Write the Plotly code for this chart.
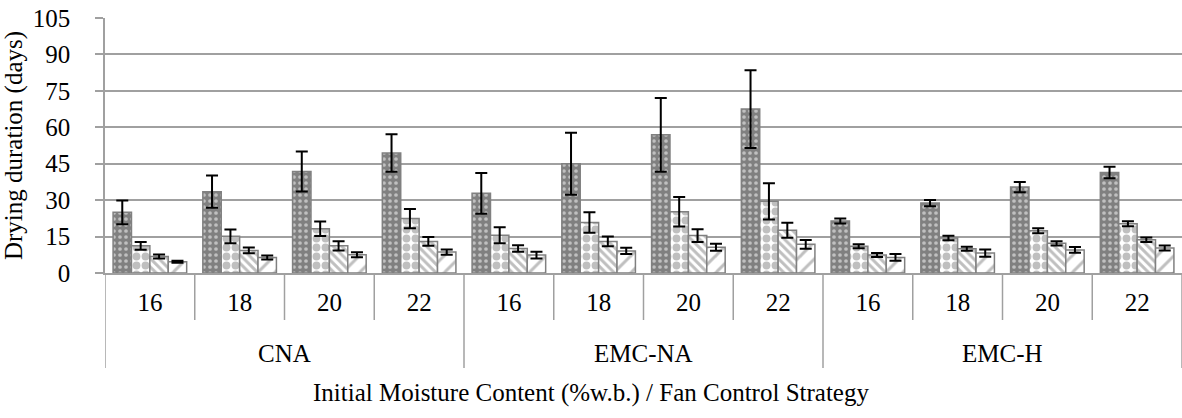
import plotly.graph_objects as go

strategies = ["CNA", "EMC-NA", "EMC-H"]
moisture = ["16", "18", "20", "22"]
categories = [f"{s} {m}" for s in strategies for m in moisture]
tick_labels = moisture * len(strategies)

s1 = [25.0, 33.5, 41.8, 49.4, 32.8, 45.0, 56.9, 67.5, 21.4, 28.8, 35.4, 41.4]
e1 = [4.9, 6.6, 8.2, 7.7, 8.4, 12.8, 15.2, 16.0, 1.0, 1.3, 2.1, 2.4]
s2 = [11.2, 15.1, 18.2, 22.4, 15.5, 20.8, 25.2, 29.5, 11.0, 14.4, 17.4, 20.3]
e2 = [1.6, 2.8, 3.0, 4.0, 3.3, 4.2, 6.1, 7.5, 0.8, 0.9, 1.0, 1.0]
s3 = [6.8, 9.3, 11.2, 13.0, 10.1, 13.0, 15.4, 17.6, 7.4, 10.0, 12.2, 13.7]
e3 = [0.8, 1.2, 1.9, 1.8, 1.3, 2.0, 2.6, 3.1, 0.8, 0.8, 0.9, 0.9]
s4 = [4.6, 6.4, 7.5, 8.6, 7.4, 9.1, 10.6, 11.8, 6.4, 8.2, 9.5, 10.3]
e4 = [0.4, 0.8, 1.0, 1.1, 1.4, 1.3, 1.4, 1.8, 1.4, 1.5, 1.2, 1.0]

series_names = ["Series 1", "Series 2", "Series 3", "Series 4"]
values = [s1, s2, s3, s4]
errors = [e1, e2, e3, e4]

GRAY = "#808080"
AXC = "#a0a0a0"
patterns = [
    dict(shape=".", bgcolor=GRAY, fgcolor="white", size=6, solidity=0.3),
    dict(shape=".", bgcolor="white", fgcolor=GRAY, size=9, solidity=0.6),
    dict(shape="\\", bgcolor="white", fgcolor=GRAY, size=6, solidity=0.5),
    dict(shape="/", bgcolor="white", fgcolor=GRAY, size=12, solidity=0.25),
]

FONT = "Liberation Serif"
FS = 25
W, H = 1182, 418
ML, MR, MT, MB = 105, 0, 18, 145
PLOT_W = W - ML - MR
PLOT_H = H - MT - MB

fig = go.Figure()
for name, v, e, p in zip(series_names, values, errors, patterns):
    fig.add_trace(go.Bar(
        x=categories, y=v, name=name,
        marker=dict(color=p["bgcolor"], pattern=p, line=dict(color=GRAY, width=1.5)),
        error_y=dict(type="data", array=e, visible=True, color="black", thickness=2, width=6),
    ))

n = len(categories)
inner_len = 47 / PLOT_H
outer_len = 95 / PLOT_H
for k in range(n + 1):
    xpos = k - 0.5
    is_group = (k % len(moisture) == 0)
    fig.add_shape(type="line", xref="x", yref="paper", x0=xpos, x1=xpos,
                  y0=0, y1=-(outer_len if is_group else inner_len),
                  line=dict(color=AXC, width=1.5))

for gi, g in enumerate(strategies):
    center = gi * len(moisture) + (len(moisture) - 1) / 2
    fig.add_annotation(x=center, xref="x", y=-80 / PLOT_H, yref="paper",
                       text=g, showarrow=False, yanchor="middle",
                       font=dict(family=FONT, size=FS, color="black"))

# x-axis title, centred on the whole chart area (as in the original)
fig.add_annotation(x=(W / 2 - ML) / PLOT_W, xref="paper", y=-(393 - (H - MB)) / PLOT_H, yref="paper",
                   text="Initial Moisture Content (%w.b.) / Fan Control Strategy",
                   showarrow=False, xanchor="center", yanchor="middle",
                   font=dict(family=FONT, size=FS, color="black"))

fig.update_layout(
    width=W, height=H,
    margin=dict(l=ML, r=MR, t=MT, b=MB),
    paper_bgcolor="white", plot_bgcolor="white",
    barmode="group", bargap=0.18, bargroupgap=0,
    showlegend=False,
    font=dict(family=FONT, size=FS, color="black"),
    yaxis=dict(
        range=[0, 105], tickvals=[0, 15, 30, 45, 60, 75, 90, 105],
        tickfont=dict(family=FONT, size=FS, color="black"),
        showgrid=True, gridcolor=AXC, gridwidth=1.5,
        showline=True, linecolor=AXC, linewidth=1.5,
        ticks="outside", ticklen=8, tickcolor=AXC, tickwidth=1.5,
        ticklabelstandoff=20, zeroline=False,
        title=dict(text="Drying duration (days)", standoff=12,
                   font=dict(family=FONT, size=FS, color="black")),
        automargin=False,
    ),
    xaxis=dict(
        type="category", categoryorder="array", categoryarray=categories,
        range=[-0.5, n - 0.5],
        tickmode="array", tickvals=categories, ticktext=tick_labels,
        tickfont=dict(family=FONT, size=FS, color="black"),
        ticks="", ticklabelstandoff=6,
        showline=True, linecolor=AXC, linewidth=1.5, showgrid=False,
        automargin=False,
    ),
)

fig.write_html("out.html")
